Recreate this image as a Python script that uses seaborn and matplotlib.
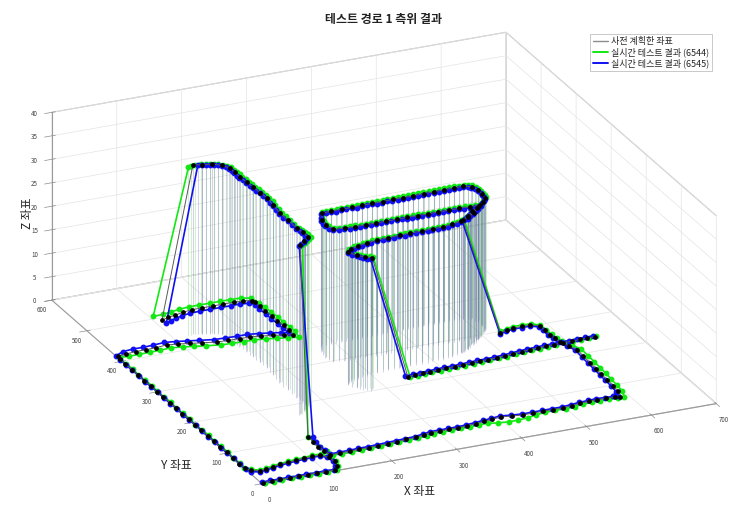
import numpy as np
import matplotlib
matplotlib.use("Agg")
import matplotlib.pyplot as plt
import seaborn as sns
from matplotlib.lines import Line2D
from mpl_toolkits.mplot3d import proj3d
from mpl_toolkits.mplot3d.art3d import Line3DCollection

# ---------------- data (x, y, z) ----------------
title = "테스트 경로 1 측위 결과"
labels = ["사전 계획한 좌표", "실시간 테스트 결과 (6544)", "실시간 테스트 결과 (6545)"]
x_ticks = [0, 100, 200, 300, 400, 500, 600, 700]
y_ticks = [0, 100, 200, 300, 400, 500, 600]
z_ticks = [0, 5, 10, 15, 20, 25, 30, 35, 40]

plan_xyz = [
    (3,2,0),(16,2,0),(30,3,0),(44,2,0),(58,3,0),(72,2,0),(86,3,0),(100,2,0),(114,3,0),
    (122,12,0),(126,26,0),(124,40,0),(117,50,0),
    (104,50,0),(91,49,0),(78,48,0),(65,46,0),(52,44,0),(39,41,0),(27,38,0),(16,36,0),(6,42,0),(0,50,0),
    (0,66,0),(0,84,0),(1,102,0),(0,120,0),(0,138,0),(1,156,0),(0,174,0),(0,192,0),(1,210,0),(0,228,0),
    (0,246,0),(1,264,0),(0,282,0),(0,300,0),(1,318,0),(0,336,0),(0,354,0),(1,372,0),(0,390,0),(0,406,0),
    (2,416,0),
    (16,418,0),(32,420,0),(48,420,0),(64,421,0),(82,423,0),(98,420,0),(114,416,0),(130,412,0),
    (150,407,0),(166,406,0),(184,405,0),(200,405,0),(216,402,0),(232,398,0),(246,394,0),(258,390,0),
    (260,404,0),(260,420,0),(259,436,0),(259,452,0),(258,468,0),(258,484,0),(258,497,0),
    (256,503,0),(244,506,0),(230,507,0),(214,507,0),(198,507,0),(182,507,0),(166,507,0),(150,504,0),
    (136,500,0),(124,497,0),(112,493,0),
    (131,440,36),(144,437,36),(157,433,36),(168,426,36),(174,414,36),(174,400,36),(174,385,36),
    (175,368,36),(176,351,36),(177,333,36),(178,315,36),(175,292,36),(172,268,36),(172,244,36),
    (172,219,36),(173,204,36),(173,189,36),(162,180,36),(151,171,36),
    (128,106,0),(127,90,0),(126,74,0),(128,60,0),(130,46,0),
    (145,46,0),(160,46,0),(175,47,0),(190,47,0),(205,48,0),(220,49,0),(235,50,0),(250,51,0),
    (265,52,0),(280,55,0),(292,58,0),(306,58,0),(320,58,0),(334,58,0),(348,59,0),(362,61,0),
    (376,63,0),(390,65,0),(405,67,0),(420,64,0),(436,62,0),(451,62,0),(466,62,0),(482,62,0),
    (498,62,0),(512,64,0),(526,66,0),(540,67,0),(553,68,0),(566,67,0),(580,66,0),(587,65,0),
    (592,80,0),(594,98,0),(595,117,0),(596,135,0),(597,153,0),(598,172,0),(599,192,0),(601,213,0),
    (596,228,0),(590,243,0),(589,256,0),(588,267,0),(588,282,0),(588,296,0),
    (577,303,0),(564,303,0),(551,303,0),(539,300,0),(527,296,0),
    (452,263,28),(464,272,28),(476,282,28),(488,290,28),(496,296,28),
    (480,296,28),(464,297,28),(448,297,28),(432,297,28),(416,297,28),(400,297,28),(384,297,28),
    (368,297,28),(352,297,28),(336,297,28),(320,297,28),(304,297,28),(288,298,28),(272,300,28),
    (268,315,28),(272,332,28),(281,350,28),
    (296,350,28),(312,351,28),(328,351,28),(344,352,28),(360,352,28),(376,352,28),(392,353,28),
    (408,353,28),(424,353,28),(440,354,28),(456,354,28),(472,355,28),(488,355,28),(502,355,28),
    (512,350,28),
    (516,338,28),(515,325,28),(512,312,28),(504,304,28),
    (490,290,28),(476,278,28),(462,268,28),(448,262,28),(432,257,28),(416,254,28),(400,254,28),
    (383,253,28),(365,253,28),(348,252,28),(330,251,28),(312,250,28),(295,247,28),(279,243,28),
    (266,238,28),(257,231,28),(264,218,28),(272,210,28),(280,204,28),
    (344,221,0),(356,222,0),(368,223,0),(380,224,0),(393,225,0),(406,226,0),(419,226,0),(432,227,0),
    (446,228,0),(459,229,0),(472,229,0),(486,230,0),(499,231,0),(513,233,0),(527,235,0),(540,236,0),
    (553,237,0),(566,238,0),(579,238,0),(593,239,0),(606,239,0),(619,240,0),(631,240,0),(643,240,0),
]

rt6544_xyz = [
    (4,0,0),(18,0,0),(32,1,0),(46,0,0),(60,0,0),(74,1,0),(88,0,0),(102,1,0),(116,0,0),
    (124,12,0),(129,27,0),(127,41,0),(119,53,0),
    (106,53,0),(92,51,0),(79,50,0),(66,48,0),(53,46,0),(40,43,0),(28,40,0),(17,38,0),(7,44,0),(1,52,0),
    (2,67,0),(1,85,0),(3,103,0),(2,121,0),(1,139,0),(3,157,0),(2,175,0),(1,193,0),(3,211,0),(2,229,0),
    (1,247,0),(3,265,0),(2,283,0),(1,301,0),(3,319,0),(2,337,0),(1,355,0),(3,373,0),(2,391,0),(1,407,0),
    (3,412,0),
    (17,410,0),(33,411,0),(49,411,0),(65,412,0),(83,413,0),(99,410,0),(115,406,0),(131,402,0),
    (151,397,0),(167,396,0),(185,395,0),(201,395,0),(217,392,0),(233,388,0),(248,384,0),(262,381,0),
    (266,398,0),(266,414,0),(265,430,0),(265,446,0),(264,462,0),(263,478,0),(262,494,0),
    (258,510,0),(246,515,0),(230,516,0),(214,516,0),(198,516,0),(182,516,0),(166,516,0),(150,514,0),
    (136,511,0),(122,508,0),(106,507,0),
    (122,436,36),(128,439,36),(135,440,36),(143,439,36),(150,437,36),(155,435,36),(160,433,36),
    (165,430,36),(170,427,36),(174,421,36),(177,415,36),(177,408,36),(177,400,36),(177,392,36),
    (177,385,36),(178,376,36),(178,368,36),(179,360,36),(179,351,36),(180,342,36),(180,333,36),
    (181,324,36),(181,315,36),(180,303,36),(178,292,36),(177,280,36),(175,268,36),(175,256,36),
    (175,244,36),(175,232,36),(175,219,36),(176,211,36),(176,204,36),(177,196,36),(177,189,36),
    (171,184,36),(166,179,36),(160,174,36),(154,170,36),
    (127,104,0),(129,88,0),(128,72,0),(131,58,0),(133,44,0),
    (147,43,0),(162,43,0),(177,44,0),(192,44,0),(207,45,0),(222,46,0),(237,47,0),(252,48,0),
    (267,49,0),(282,51,0),(294,54,0),(308,54,0),(322,55,0),(336,55,0),(350,55,0),(364,56,0),
    (378,56,0),(392,52,0),(407,50,0),(422,50,0),(438,52,0),(453,56,0),(468,58,0),(484,59,0),
    (500,58,0),(514,60,0),(528,62,0),(542,63,0),(555,64,0),(568,63,0),(582,62,0),(592,62,0),
    (598,80,0),(600,98,0),(601,117,0),(603,135,0),(604,153,0),(605,172,0),(606,192,0),(607,213,0),
    (601,228,0),(594,243,0),(592,256,0),(591,267,0),(590,282,0),(590,298,0),
    (579,306,0),(566,307,0),(553,307,0),(541,304,0),(529,300,0),
    (455,266,28),(461,270,28),(467,275,28),(473,280,28),(479,285,28),(485,289,28),(491,293,28),
    (495,296,28),(499,299,28),
    (490,299,28),(482,299,28),(474,300,28),(466,300,28),(458,300,28),(450,300,28),(442,300,28),
    (434,300,28),(426,300,28),(418,300,28),(410,300,28),(402,300,28),(394,300,28),(386,300,28),
    (378,300,28),(370,300,28),(362,300,28),(354,300,28),(346,300,28),(338,300,28),(330,300,28),
    (322,300,28),(314,300,28),(306,300,28),(298,300,28),(290,301,28),(282,302,28),(274,303,28),
    (271,310,28),(270,318,28),(272,326,28),(274,335,28),(278,344,28),(283,353,28),
    (290,354,28),(298,354,28),(306,354,28),(314,355,28),(322,355,28),(330,355,28),(338,355,28),
    (346,356,28),(354,356,28),(362,356,28),(370,356,28),(378,356,28),(386,357,28),(394,357,28),
    (402,357,28),(410,357,28),(418,357,28),(426,357,28),(434,358,28),(442,358,28),(450,358,28),
    (458,358,28),(466,359,28),(474,359,28),(482,359,28),(490,359,28),(497,359,28),(504,358,28),
    (510,356,28),(514,353,28),
    (517,346,28),(518,340,28),(518,333,28),(517,327,28),(516,320,28),(514,314,28),(510,310,28),
    (506,306,28),
    (499,299,28),(492,293,28),(485,287,28),(478,281,28),(471,276,28),(464,271,28),(457,268,28),
    (450,265,28),(442,262,28),(434,260,28),(426,258,28),(418,257,28),(410,257,28),(402,257,28),
    (394,256,28),(385,256,28),(376,256,28),(367,256,28),(358,255,28),(350,255,28),(341,254,28),
    (332,254,28),(323,253,28),(314,253,28),(305,252,28),(297,250,28),(289,248,28),(281,246,28),
    (274,244,28),(268,241,28),(263,238,28),(259,234,28),(262,227,28),(266,221,28),(270,217,28),
    (274,213,28),(279,210,28),(283,207,28),
    (346,218,0),(358,219,0),(370,220,0),(382,221,0),(395,222,0),(408,223,0),(421,223,0),(434,224,0),
    (448,225,0),(461,226,0),(474,226,0),(488,227,0),(501,228,0),(515,230,0),(529,232,0),(542,233,0),
    (555,234,0),(568,235,0),(581,236,0),(595,237,0),(608,238,0),(621,239,0),(633,240,0),(645,241,0),
]

rt6545_xyz = [
    (2,4,0),(15,5,0),(29,4,0),(43,5,0),(57,4,0),(71,5,0),(85,4,0),(99,5,0),(113,4,0),
    (120,14,0),(124,28,0),(122,40,0),(115,48,0),
    (102,47,0),(89,46,0),(76,45,0),(63,43,0),(50,41,0),(37,38,0),(25,35,0),(14,33,0),(4,38,0),(0,47,0),
    (0,64,0),(1,82,0),(0,100,0),(0,118,0),(1,136,0),(0,154,0),(0,172,0),(1,190,0),(0,208,0),(0,226,0),
    (1,244,0),(0,262,0),(0,280,0),(1,298,0),(0,316,0),(0,334,0),(1,352,0),(0,370,0),(0,388,0),(0,405,0),
    (0,418,0),
    (16,426,0),(32,428,0),(48,428,0),(64,429,0),(82,431,0),(98,428,0),(114,424,0),(130,420,0),
    (150,415,0),(166,414,0),(184,413,0),(200,413,0),(216,410,0),(232,406,0),(246,402,0),(256,398,0),
    (255,412,0),(255,428,0),(254,444,0),(254,460,0),(253,476,0),(253,490,0),(252,500,0),
    (248,497,0),(236,499,0),(222,499,0),(206,499,0),(190,499,0),(174,499,0),(158,498,0),(144,495,0),
    (132,491,0),(122,487,0),(114,484,0),
    (137,437,36),(143,436,36),(148,435,36),(153,433,36),(158,431,36),(163,428,36),(167,424,36),
    (170,418,36),(172,412,36),(172,405,36),(172,398,36),(172,390,36),(172,383,36),(173,374,36),
    (173,366,36),(174,357,36),(174,349,36),(175,340,36),(175,331,36),(176,322,36),(176,313,36),
    (175,301,36),(173,290,36),(171,278,36),(170,266,36),(170,254,36),(170,242,36),(170,229,36),
    (170,217,36),(171,209,36),(171,202,36),(171,194,36),(171,187,36),(165,182,36),(160,178,36),
    (154,174,36),(149,170,36),
    (134,103,0),(131,88,0),(129,73,0),(130,60,0),(131,48,0),
    (145,49,0),(160,49,0),(175,50,0),(190,50,0),(205,51,0),(220,52,0),(235,53,0),(250,54,0),
    (265,55,0),(280,58,0),(292,61,0),(306,61,0),(320,61,0),(334,61,0),(348,62,0),(362,64,0),
    (376,66,0),(390,68,0),(405,70,0),(420,67,0),(436,65,0),(451,65,0),(466,65,0),(482,65,0),
    (498,65,0),(512,67,0),(526,69,0),(540,70,0),(553,71,0),(566,70,0),(578,69,0),(585,67,0),
    (589,80,0),(591,98,0),(592,117,0),(593,135,0),(594,153,0),(595,172,0),(596,192,0),(598,213,0),
    (593,228,0),(587,243,0),(586,256,0),(585,267,0),(585,282,0),(585,294,0),
    (575,300,0),(562,300,0),(549,300,0),(537,297,0),(525,293,0),
    (449,260,28),(455,264,28),(461,269,28),(467,274,28),(473,279,28),(479,283,28),(485,287,28),
    (489,290,28),(493,293,28),
    (486,293,28),(478,293,28),(470,294,28),(462,294,28),(454,294,28),(446,294,28),(438,294,28),
    (430,294,28),(422,294,28),(414,294,28),(406,294,28),(398,294,28),(390,294,28),(382,294,28),
    (374,294,28),(366,294,28),(358,294,28),(350,294,28),(342,294,28),(334,294,28),(326,294,28),
    (318,294,28),(310,294,28),(302,294,28),(294,294,28),(286,295,28),(278,296,28),(270,297,28),
    (267,304,28),(265,312,28),(267,320,28),(269,329,28),(273,338,28),(278,347,28),
    (286,347,28),(294,347,28),(302,347,28),(310,348,28),(318,348,28),(326,348,28),(334,348,28),
    (342,349,28),(350,349,28),(358,349,28),(366,349,28),(374,349,28),(382,350,28),(390,350,28),
    (398,350,28),(406,350,28),(414,350,28),(422,350,28),(430,351,28),(438,351,28),(446,351,28),
    (454,351,28),(462,352,28),(470,352,28),(478,352,28),(486,352,28),(493,352,28),(500,352,28),
    (506,350,28),(510,347,28),
    (513,341,28),(514,335,28),(514,328,28),(513,322,28),(512,315,28),(510,309,28),(506,305,28),
    (502,301,28),
    (495,293,28),(488,287,28),(481,281,28),(474,275,28),(467,270,28),(460,265,28),(453,262,28),
    (446,259,28),(438,256,28),(430,254,28),(422,252,28),(414,251,28),(406,251,28),(398,251,28),
    (390,250,28),(381,250,28),(372,250,28),(363,250,28),(354,249,28),(346,249,28),(337,248,28),
    (328,248,28),(319,247,28),(310,247,28),(301,246,28),(293,244,28),(285,242,28),(277,240,28),
    (270,238,28),(264,235,28),(259,232,28),(255,228,28),(258,221,28),(262,215,28),(265,211,28),
    (268,207,28),(272,204,28),(276,201,28),
    (342,224,0),(354,225,0),(366,226,0),(378,227,0),(391,228,0),(404,229,0),(417,229,0),(430,230,0),
    (444,231,0),(457,232,0),(470,232,0),(484,233,0),(497,234,0),(511,236,0),(525,238,0),(538,239,0),
    (551,240,0),(564,241,0),(577,241,0),(591,242,0),(604,242,0),(617,243,0),(629,243,0),(641,243,0),
]

# ---------------- style ----------------
sns.set_theme(style="white")
plt.rcParams["font.family"] = ["Noto Sans CJK KR", "DejaVu Sans"]
plt.rcParams["grid.color"] = "#e4e4e4"
plt.rcParams["grid.linewidth"] = 0.5

W, H = 747, 514
fig = plt.figure(figsize=(W / 100, H / 100), dpi=100)
fig.patch.set_facecolor("white")
ax = fig.add_axes([0, 0, 1, 1], projection="3d", proj_type="ortho")
ax.view_init(elev=23.1, azim=-114.2)
ax.set_box_aspect((1, 1.03, 0.41))
ax.computed_zorder = False

plan = np.array(plan_xyz, dtype=float)
g = np.array(rt6544_xyz, dtype=float)
b = np.array(rt6545_xyz, dtype=float)

c_plan_line = "#5a5a5a"
c_green = "#12e812"
c_blue = "#1010f2"


def stems(arr, color, alpha, z):
    segs = [[(p[0], p[1], p[2]), (p[0], p[1], 0.0)] for p in arr if p[2] > 0]
    lc = Line3DCollection(segs, colors=color, linewidths=0.75, alpha=alpha, zorder=z)
    ax.add_collection3d(lc)


stems(plan, "#7a7a88", 0.32, 1)
stems(g, "#7fd27f", 0.34, 1)
stems(b, "#6464b8", 0.28, 1)

ax.plot(g[:, 0], g[:, 1], g[:, 2], color=c_green, lw=1.2, marker="o", ms=3.2,
        mec=c_green, mfc=c_green, zorder=3)
ax.plot(b[:, 0], b[:, 1], b[:, 2], color=c_blue, lw=1.2, marker="o", ms=3.2,
        mec=c_blue, mfc=c_blue, zorder=4)
ax.plot(plan[:, 0], plan[:, 1], plan[:, 2], color=c_plan_line, lw=0.7, zorder=5)
ax.plot(plan[:, 0], plan[:, 1], plan[:, 2], ls="none", marker="o", ms=2.4,
        mec="black", mfc="black", zorder=6)

ax.set_xlim(0, 700)
ax.set_ylim(0, 600)
ax.set_zlim(0, 40)
ax.set_xticks(x_ticks)
ax.set_yticks(y_ticks)
ax.set_zticks(z_ticks)
for axis in (ax.xaxis, ax.yaxis, ax.zaxis):
    axis.set_pane_color((1, 1, 1, 1))
    axis.pane.set_edgecolor("#bdbdbd")
    axis.pane.set_linewidth(0.8)
    axis._axinfo["grid"].update(color="#e4e4e4", linewidth=0.5)
    axis._axinfo["axisline"]["color"] = "#9a9a9a"
    axis._axinfo["tick"]["linewidth"] = {True: 0.5, False: 0.3}
    axis._axinfo["tick"]["color"] = "#8c8c8c"
    axis.line.set_color("#9a9a9a")
    axis.line.set_linewidth(0.8)
ax.tick_params(axis="both", labelsize=4.5, color="#8c8c8c", labelcolor="#444444", width=0.5)
ax.tick_params(axis="x", pad=1)
ax.tick_params(axis="y", pad=-2)
ax.tick_params(axis="z", pad=-1)
ax.set_xlabel("")
ax.set_ylabel("")
ax.set_zlabel("")

# ---------------- align the box with the reference layout ----------------
fig.canvas.draw()
M = ax.get_proj()


def to_disp(p):
    xs, ys, _ = proj3d.proj_transform(p[0], p[1], p[2], M)
    return ax.transData.transform((xs, ys))


corners = [(0, 0, 0), (700, 0, 0), (0, 600, 0), (0, 600, 40), (700, 600, 40)]
targets = [(262, 484), (716, 404), (52, 300), (52, 112), (506, 32)]
D = np.array([to_disp(c) for c in corners])
T = np.array([(tx, H - ty) for tx, ty in targets], dtype=float)
Dm, Tm = D.mean(0), T.mean(0)
s = ((D - Dm) * (T - Tm)).sum() / ((D - Dm) ** 2).sum()
t = Tm - s * Dm
bb = ax.get_position()
x0, y0, w, h = bb.x0 * W, bb.y0 * H, bb.width * W, bb.height * H
ax.set_position([(s * x0 + t[0]) / W, (s * y0 + t[1]) / H, s * w / W, s * h / H])

# ---------------- texts ----------------
fig.text(384 / W, 1 - 20 / H, title, ha="center", va="center", fontsize=8.6,
         fontweight="bold", color="#222222")
fig.text(176 / W, 1 - 465 / H, "Y 좌표", ha="center", va="center", fontsize=8.5, color="#222222")
fig.text(420 / W, 1 - 491 / H, "X 좌표", ha="center", va="center", fontsize=8.5, color="#222222")
fig.text(28 / W, 1 - 213 / H, "Z 좌표", ha="center", va="center", fontsize=8.5, rotation=90,
         color="#222222")

handles = [Line2D([], [], color="#8c8c8c", lw=1.0),
           Line2D([], [], color=c_green, lw=1.4),
           Line2D([], [], color=c_blue, lw=1.4)]
leg = fig.legend(handles, labels, loc="upper right", bbox_to_anchor=(712 / W, 1 - 34 / H),
                 fontsize=6.5, frameon=True, fancybox=False, handlelength=1.6,
                 handletextpad=0.3, borderpad=0.35, labelspacing=0.12, borderaxespad=0)
leg.get_frame().set_edgecolor("#b0b0b0")
leg.get_frame().set_linewidth(0.6)

fig.savefig("out.png", dpi=100, facecolor="white")
